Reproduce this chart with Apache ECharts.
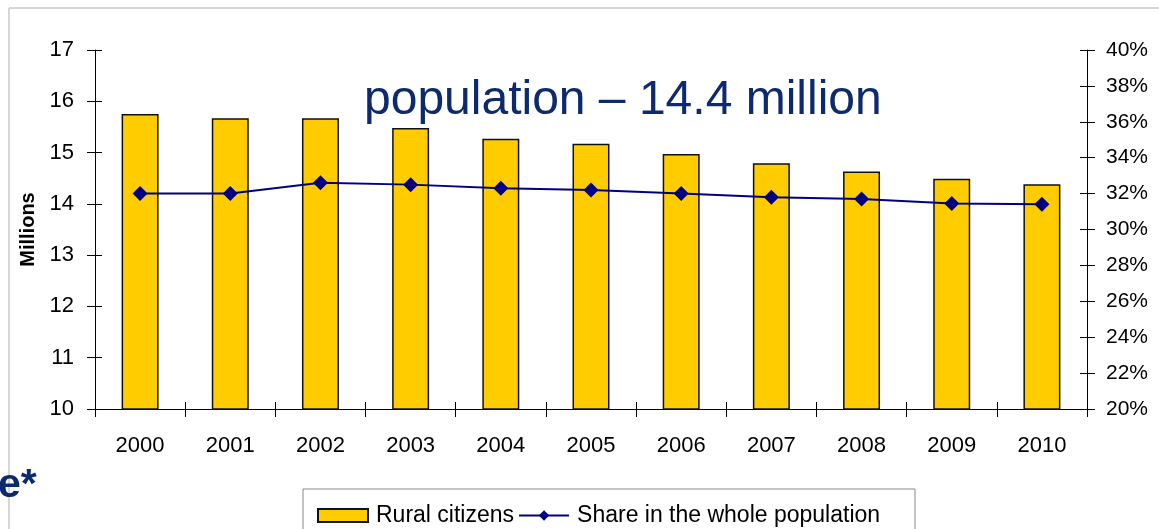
<!DOCTYPE html>
<html lang="en">

<head>
    <meta charset="UTF-8">
    <title>Rural citizens</title>
    <script src="https://cdn.jsdelivr.net/npm/echarts@6/dist/echarts.min.js"></script>
    <style>
        html, body { margin: 0; padding: 0; background: #fff; }
    </style>
</head>

<body>
    <div id="chart" style="width: 1159px;height:529px;"></div>
    <script type="text/javascript">
       // data
       var years = ['2000', '2001', '2002', '2003', '2004', '2005', '2006', '2007', '2008', '2009', '2010'];
       var ruralCitizens = [15.75, 15.67, 15.67, 15.48, 15.27, 15.17, 14.97, 14.79, 14.63, 14.49, 14.38];
       var shareOfPopulation = [32.0, 32.0, 32.6, 32.5, 32.3, 32.2, 32.0, 31.8, 31.7, 31.45, 31.4];

       var font = 'Liberation Sans, Arial, sans-serif';
       var navy = '#000080';

       var myChart = echarts.init(document.getElementById('chart'));
       var option = {
           backgroundColor: '#fff',
           animation: false,
           textStyle: { fontFamily: font },
           grid: { left: 95, right: 72, top: 50, bottom: 120 },
           graphic: [
               // pale frame of the slide
               { type: 'line', shape: { x1: 9, y1: 8, x2: 1159, y2: 8 }, style: { stroke: '#c8c8c8', lineWidth: 1.5 } },
               { type: 'line', shape: { x1: 9, y1: 8, x2: 9, y2: 529 }, style: { stroke: '#c8c8c8', lineWidth: 1.5 } },
               // legend box
               { type: 'rect', shape: { x: 303, y: 489, width: 612, height: 60 }, style: { fill: '#fff', stroke: '#888', lineWidth: 1 }, z: 0 },
               {
                   type: 'text', left: 364, top: 77,
                   style: { text: 'population – 14.4 million', font: '48px ' + font, fill: '#0d2a6e' }
               },
               {
                   type: 'text', left: -2, top: 465,
                   style: { text: 'e*', font: 'bold 41px ' + font, fill: '#0d2a6e' }
               }
           ],
           legend: {
               left: 312, top: 499,
               itemWidth: 50, itemHeight: 13, itemGap: 4,
               textStyle: { fontSize: 23, color: '#000', fontFamily: font, padding: [0, 0, 0, 3] },
               data: [
                   { name: 'Rural citizens', icon: 'rect' },
                   { name: 'Share in the whole population' }
               ]
           },
           xAxis: [{
               type: 'category',
               data: years,
               axisLine: { lineStyle: { color: '#000' } },
               axisTick: { show: true, length: 8, lineStyle: { color: '#000' } },
               axisLabel: { color: '#000', fontSize: 22, margin: 26 }
           }, {
               type: 'category',
               data: years,
               position: 'bottom',
               axisLine: { show: false },
               axisTick: { show: true, inside: true, length: 7, lineStyle: { color: '#000' } },
               axisLabel: { show: false }
           }],
           yAxis: [{
               type: 'value',
               min: 10, max: 17, interval: 1,
               name: 'Millions',
               nameLocation: 'middle',
               nameRotate: 90,
               nameGap: 52,
               nameTextStyle: { fontSize: 20, fontWeight: 'bold', color: '#000' },
               axisLine: { show: true, lineStyle: { color: '#000' } },
               axisTick: { show: true, length: 8, lineStyle: { color: '#000' } },
               axisLabel: { color: '#000', fontSize: 22, margin: 21 },
               splitLine: { show: false }
           }, {
               type: 'value',
               min: 20, max: 40, interval: 2,
               position: 'right',
               axisLine: { show: true, lineStyle: { color: '#000' } },
               axisTick: { show: true, length: 8, lineStyle: { color: '#000' } },
               axisLabel: { color: '#000', fontSize: 21, margin: 19, formatter: '{value}%' },
               splitLine: { show: false }
           }, {
               type: 'value',
               min: 10, max: 17, interval: 1,
               position: 'left',
               axisLine: { show: false },
               axisTick: { show: true, inside: true, length: 7, lineStyle: { color: '#000' } },
               axisLabel: { show: false },
               splitLine: { show: false }
           }, {
               type: 'value',
               min: 20, max: 40, interval: 2,
               position: 'right',
               axisLine: { show: false },
               axisTick: { show: true, inside: true, length: 7, lineStyle: { color: '#000' } },
               axisLabel: { show: false },
               splitLine: { show: false }
           }],
           series: [{
               name: 'Rural citizens',
               type: 'bar',
               yAxisIndex: 0,
               barWidth: '41%',
               data: ruralCitizens,
               itemStyle: { color: '#ffcc00', borderColor: '#111', borderWidth: 1.5 }
           }, {
               name: 'Share in the whole population',
               type: 'line',
               yAxisIndex: 1,
               data: shareOfPopulation,
               symbol: 'diamond',
               symbolSize: 15,
               lineStyle: { color: navy, width: 2 },
               itemStyle: { color: navy }
           }]
       };
       myChart.setOption(option);
    </script>
</body>

</html>
